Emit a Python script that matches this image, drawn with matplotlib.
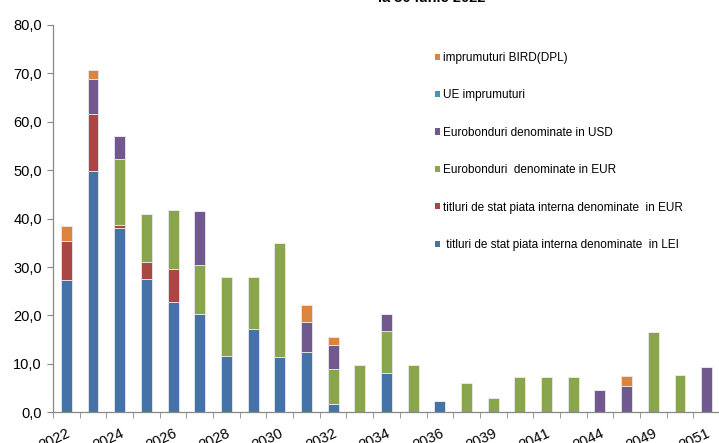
import numpy as np
import matplotlib
matplotlib.use('Agg')
import matplotlib.pyplot as plt
from matplotlib.patches import Patch

plt.rcParams['font.family'] = ['Liberation Sans', 'DejaVu Sans']

# data (mld lei), bottom -> top of each stack
years = ['2022', '2023', '2024', '2025', '2026', '2027', '2028', '2029', '2030',
         '2031', '2032', '2033', '2034', '2035', '2036', '2038', '2039', '2040',
         '2041', '2042', '2044', '2048', '2049', '2050', '2051']
lei = [27.3, 49.8, 38.1, 27.5, 22.8, 20.4, 11.7, 17.3, 11.4, 12.5, 1.8, 0, 8.1,
       0, 2.3, 0, 0, 0, 0, 0, 0, 0, 0, 0, 0]
eur_intern = [8.1, 11.9, 0.6, 3.5, 6.9, 0, 0, 0, 0, 0, 0, 0, 0,
              0, 0, 0, 0, 0, 0, 0, 0, 0, 0, 0, 0]
euro_eur = [0, 0, 13.6, 10.0, 12.1, 10.0, 16.2, 10.6, 23.6, 0, 7.1, 9.8, 8.7,
            9.8, 0, 6.1, 2.9, 7.3, 7.3, 7.3, 0, 0, 16.5, 7.8, 0]
euro_usd = [0, 7.1, 4.8, 0, 0, 11.1, 0, 0, 0, 6.2, 5.1, 0, 3.6,
            0, 0, 0, 0, 0, 0, 0, 4.7, 5.5, 0, 0, 9.4]
ue = [0] * 25
bird = [3.0, 2.0, 0, 0, 0, 0, 0, 0, 0, 3.5, 1.5, 0, 0,
        0, 0, 0, 0, 0, 0, 0, 0, 2.1, 0, 0, 0]

series = [
    (' titluri de stat piata interna denominate  in LEI', lei, '#4572A7'),
    ('titluri de stat piata interna denominate  in EUR', eur_intern, '#AA4643'),
    ('Eurobonduri  denominate in EUR', euro_eur, '#89A54E'),
    ('Eurobonduri denominate in USD', euro_usd, '#71588F'),
    ('UE imprumuturi', ue, '#4198AF'),
    ('imprumuturi BIRD(DPL)', bird, '#DB843D'),
]

W, H = 719, 443
fig = plt.figure(figsize=(W / 100, H / 100), dpi=100)
ax = fig.add_axes([53 / W, (H - 412.3) / H, 667 / W, (412.3 - 25) / H])

x = np.arange(len(years))
bottom = np.zeros(len(years))
for name, vals, col in series:
    v = np.array(vals, dtype=float)
    ax.bar(x, v, 0.41, bottom=bottom, color=col, edgecolor='#e8e8ee',
           linewidth=0.6)
    bottom += v

ax.set_xlim(-0.5, len(years) - 0.5)
ax.set_ylim(0, 80)
ax.set_yticks(np.arange(0, 81, 10))
ax.set_yticklabels(['%d,0' % v for v in range(0, 81, 10)], fontsize=10.5)
ax.tick_params(axis='y', length=4, color='#888888', pad=4)

ax.set_xticks(x[::2])
ax.set_xticklabels(years[::2], fontsize=10.5, rotation=25, ha='right',
                   va='top', rotation_mode='anchor')
ax.tick_params(axis='x', which='major', length=0, pad=10)
ax.set_xticks(np.arange(-0.5, len(years), 1), minor=True)
ax.tick_params(axis='x', which='minor', length=4, color='#888888')

for s in ['top', 'right']:
    ax.spines[s].set_visible(False)
for s in ['left', 'bottom']:
    ax.spines[s].set_color('#888888')
    ax.spines[s].set_linewidth(0.9)

handles = [Patch(facecolor=c, edgecolor='none', label=n) for n, v, c in series[::-1]]
fig.legend(handles=handles, loc='upper left', bbox_to_anchor=(435 / W, 1 - 52 / H),
           frameon=False, fontsize=8.5, handlelength=0.45, handleheight=0.45,
           handletextpad=0.2, labelspacing=2.15, borderpad=0, borderaxespad=0)

fig.text(432 / W, 1 - 2.5 / H, 'la 30 iunie 2022', ha='center', va='baseline',
         fontsize=10.5, fontweight='bold')

fig.savefig('out.png', dpi=100)
